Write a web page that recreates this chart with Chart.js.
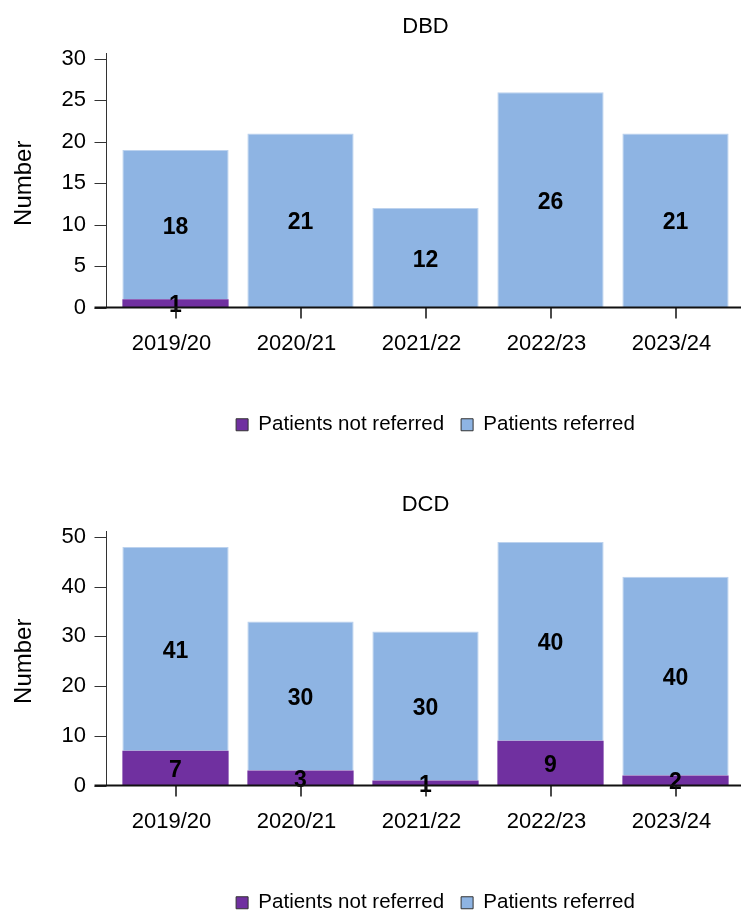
<!DOCTYPE html>
<html lang="en">
<head>
<meta charset="UTF-8">
<title>DBD and DCD patients referred</title>
<script src="https://cdn.jsdelivr.net/npm/chart.js"></script>
<style>
  * { margin: 0; padding: 0; box-sizing: border-box; }
  html, body { width: 741px; height: 910px; overflow: hidden; background: #fff; }
  .chart { position: relative; width: 741px; height: 478px; }
</style>
</head>
<body>

<div class="chart"><canvas id="dbdChart"></canvas></div>
<div class="chart"><canvas id="dcdChart"></canvas></div>

<script>
const years = ['2019/20', '2020/21', '2021/22', '2022/23', '2023/24'];
const dbdNotReferred = [1, 0, 0, 0, 0];
const dbdReferred = [18, 21, 12, 26, 21];
const dcdNotReferred = [7, 3, 1, 9, 2];
const dcdReferred = [41, 30, 30, 40, 40];
const dbdTicks = [0, 5, 10, 15, 20, 25, 30];
const dcdTicks = [0, 10, 20, 30, 40, 50];

const FONT = '"Liberation Sans", Arial, sans-serif';

// value in the middle of each stacked piece
const segmentLabels = {
    id: 'segmentLabels',
    afterDatasetsDraw(chart) {
        const ctx = chart.ctx;
        ctx.save();
        ctx.font = 'bold 23px ' + FONT;
        ctx.fillStyle = '#000';
        ctx.textAlign = 'center';
        ctx.textBaseline = 'middle';
        chart.data.datasets.forEach((ds, i) => {
            chart.getDatasetMeta(i).data.forEach((bar, j) => {
                const v = ds.data[j];
                if (!v) return;
                ctx.fillText(v, bar.x, (bar.y + bar.base) / 2 + 2.5);
            });
        });
        ctx.restore();
    }
};

// axis lines sit a little left of the plot, like the original
const axisLines = {
    id: 'axisLines',
    afterLayout(chart) {
        // nudge legend to the right
        chart.legend.left += 10;
        chart.legend.right += 10;
    },
    afterDraw(chart) {
        const { ctx, chartArea: a, scales: { x, y } } = chart;
        const ax = a.left - 6.5;
        ctx.save();
        ctx.strokeStyle = '#333';
        ctx.lineWidth = 1;
        ctx.beginPath();
        ctx.moveTo(ax, a.top - 6);
        ctx.lineTo(ax, a.bottom);
        y.ticks.forEach(t => {
            const py = Math.round(y.getPixelForValue(t.value)) + 0.5;
            ctx.moveTo(ax - 12, py);
            ctx.lineTo(ax, py);
        });
        ctx.stroke();

        ctx.strokeStyle = '#111';
        ctx.lineWidth = 2;
        ctx.beginPath();
        ctx.moveTo(ax - 12, a.bottom);
        ctx.lineTo(chart.width, a.bottom);
        ctx.stroke();
        ctx.lineWidth = 1.5;
        ctx.beginPath();
        x.ticks.forEach((t, i) => {
            const px = Math.round(x.getPixelForTick(i));
            ctx.moveTo(px, a.bottom);
            ctx.lineTo(px, a.bottom + 11);
        });
        ctx.stroke();
        ctx.restore();
    }
};

function makeChart(id, title, notReferred, referred, tickValues) {
    const ctx = document.getElementById(id).getContext('2d');
    return new Chart(ctx, {
        type: 'bar',
        data: {
            labels: years,
            datasets: [{
                label: 'Patients not referred',
                data: notReferred,
                backgroundColor: '#7030A0',
                borderWidth: 0
            }, {
                label: 'Patients referred',
                data: referred,
                backgroundColor: '#8EB4E3',
                borderColor: '#BCD2EE',
                borderWidth: 1
            }]
        },
        options: {
            responsive: true,
            maintainAspectRatio: false,
            animation: false,
            barPercentage: 0.85,
            categoryPercentage: 1,
            layout: { padding: { left: 0, right: 3, top: 0, bottom: 33 } },
            plugins: {
                tooltip: { enabled: false },
                title: {
                    display: true,
                    text: title,
                    fullSize: false,
                    color: '#000',
                    font: { family: FONT, size: 22, weight: 'normal' },
                    padding: { top: 14, bottom: 18.6 }
                },
                legend: {
                    position: 'bottom',
                    fullSize: false,
                    labels: {
                        color: '#000',
                        font: { family: FONT, size: 20.5 },
                        boxWidth: 12,
                        boxHeight: 12,
                        padding: 17,
                        generateLabels(chart) {
                            const items = Chart.defaults.plugins.legend.labels.generateLabels(chart);
                            items.forEach(it => { it.strokeStyle = '#333'; it.lineWidth = 1; });
                            return items;
                        }
                    }
                }
            },
            scales: {
                x: {
                    stacked: true,
                    grid: { display: false, drawTicks: false },
                    border: { display: false },
                    ticks: { color: '#000', font: { family: FONT, size: 22 }, padding: 23, labelOffset: -4 },
                    afterFit(s) { s.height = 90; }
                },
                y: {
                    stacked: true,
                    min: tickValues[0],
                    max: tickValues[tickValues.length - 1],
                    grid: { display: false, drawTicks: false },
                    border: { display: false },
                    ticks: { color: '#000', font: { family: FONT, size: 22 }, padding: 27 },
                    title: {
                        display: true,
                        text: 'Number',
                        color: '#000',
                        font: { family: FONT, size: 24 },
                        padding: { top: 10, bottom: 0 }
                    },
                    afterBuildTicks(s) { s.ticks = tickValues.map(v => ({ value: v })); },
                    afterFit(s) { s.width = 113; }
                }
            }
        },
        plugins: [segmentLabels, axisLines]
    });
}

makeChart('dbdChart', 'DBD', dbdNotReferred, dbdReferred, dbdTicks);
makeChart('dcdChart', 'DCD', dcdNotReferred, dcdReferred, dcdTicks);
</script>

</body>
</html>
